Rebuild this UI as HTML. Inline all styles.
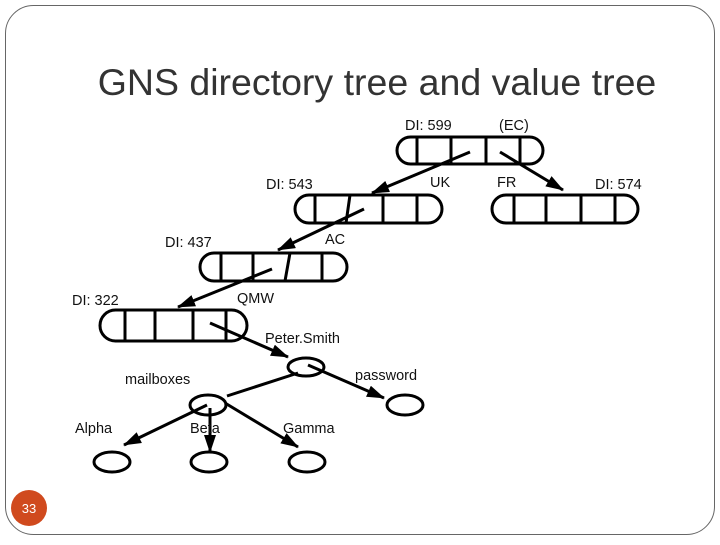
<!DOCTYPE html>
<html><head><style>
body{margin:0;background:#fff;}
svg text{font-family:"Liberation Sans",sans-serif;}
</style></head><body>
<svg width="720" height="540" viewBox="0 0 720 540" xmlns="http://www.w3.org/2000/svg">
<defs>
<marker id="b" viewBox="0 0 18 12" markerWidth="18" markerHeight="12" refX="17" refY="6" orient="auto" markerUnits="userSpaceOnUse"><path d="M0,0 L18,6 L0,12z" fill="#000"/></marker></defs>
<rect x="5.5" y="5.5" width="709" height="529" rx="28" fill="#fff" stroke="#666" stroke-width="1"/>
<text x="377" y="95" font-size="37.5" text-anchor="middle" fill="#333">GNS directory tree and value tree</text>
<g fill="none" stroke="#000" stroke-width="3">
<rect x="397" y="137" width="146" height="27" rx="13.5"/>
<path d="M417 137V164M451 137V164M486 137V164M520 137V164"/>
<rect x="295" y="195" width="147" height="28" rx="14"/>
<path d="M315 195V223M350 195L346 223M383 195V223M417 195V223"/>
<rect x="492" y="195" width="146" height="28" rx="14"/>
<path d="M514 195V223M546 195V223M581 195V223M615 195V223"/>
<rect x="200" y="253" width="147" height="28" rx="14"/>
<path d="M221 253V281M253 253V281M290 253L285 281M322 253V281"/>
<rect x="100" y="310" width="147" height="31" rx="15.5"/>
<path d="M125 310V341M155 310V341M193 310V341M226 310V341"/>
<ellipse cx="306" cy="367" rx="18" ry="9"/>
<ellipse cx="405" cy="405" rx="18" ry="10"/>
<ellipse cx="208" cy="405" rx="18" ry="10"/>
<ellipse cx="112" cy="462" rx="18" ry="10"/>
<ellipse cx="209" cy="462" rx="18" ry="10"/>
<ellipse cx="307" cy="462" rx="18" ry="10"/>
<path d="M298 373L227 396"/>
<g marker-end="url(#b)">
<path d="M470 152L372 193"/>
<path d="M500 152L563 190"/>
<path d="M364 209L278 250"/>
<path d="M272 269L178 307"/>
<path d="M210 323L288 357"/>
<path d="M308 365L384 398"/>
<path d="M207 405L124 445"/>
<path d="M210 408L210 452"/>
<path d="M225 403L298 447"/>
</g></g>
<g font-size="14.5" fill="#111">
<text x="405" y="130">DI: 599</text>
<text x="499" y="130">(EC)</text>
<text x="266" y="189">DI: 543</text>
<text x="430" y="187">UK</text>
<text x="497" y="187">FR</text>
<text x="595" y="189">DI: 574</text>
<text x="165" y="247">DI: 437</text>
<text x="325" y="244">AC</text>
<text x="72" y="305">DI: 322</text>
<text x="237" y="303">QMW</text>
<text x="265" y="343">Peter.Smith</text>
<text x="125" y="384">mailboxes</text>
<text x="355" y="380">password</text>
<text x="75" y="433">Alpha</text>
<text x="190" y="433">Beta</text>
<text x="283" y="433">Gamma</text>
</g>
<circle cx="29" cy="508" r="18" fill="#d04a1e"/>
<text x="29" y="513" font-size="13" fill="#fff" text-anchor="middle">33</text>
</svg>
</body></html>
